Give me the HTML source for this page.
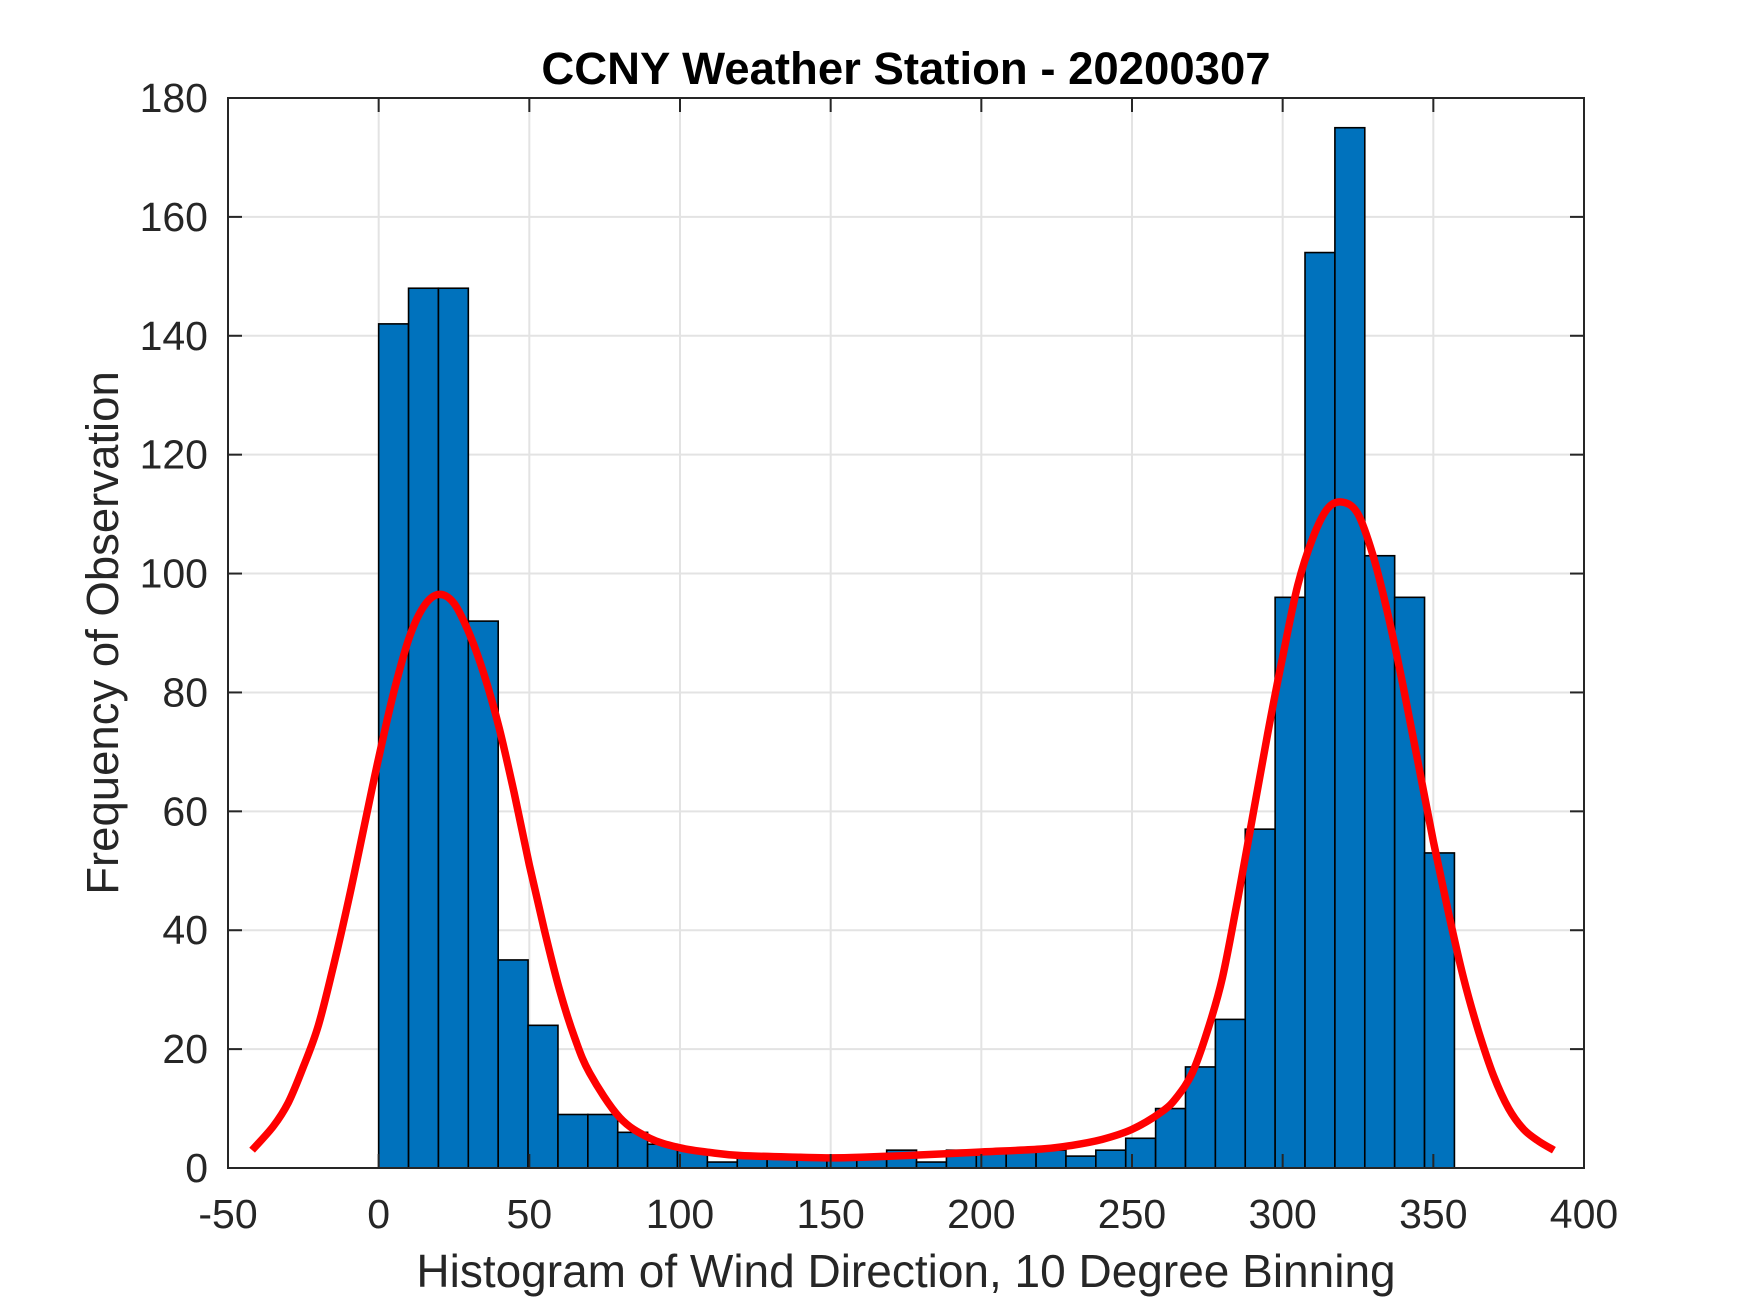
<!DOCTYPE html>
<html><head><meta charset="utf-8"><style>
body{margin:0;background:#fff;}
svg{display:block;font-family:"Liberation Sans",Arial,sans-serif;}
</style></head><body>
<svg id="chart" width="1750" height="1313" viewBox="0 0 1750 1313" xmlns="http://www.w3.org/2000/svg">
<rect width="1750" height="1313" fill="#fff"/>
<g id="grid"></g>
<g id="bars"></g>
<g id="curve"></g>
<g id="axes"></g>
<text x="906" y="84" text-anchor="middle" font-size="45.5" font-weight="bold" fill="#000">CCNY Weather Station - 20200307</text>
<text x="906" y="1287" text-anchor="middle" font-size="46" fill="#262626">Histogram of Wind Direction, 10 Degree Binning</text>
<text transform="translate(118,633) rotate(-90)" text-anchor="middle" font-size="45.5" fill="#262626">Frequency of Observation</text>
</svg>
<script>
const counts = [142,148,148,92,35,24,9,9,6,4,3,1,2,2,2,2,2,3,1,3,3,3,3,2,3,5,10,17,25,57,96,154,175,103,96,53];
const binStart = 0;
const binEnd = 357;
const curveX = [-42,-35,-30,-25,-20,-15,-10,-5,0,5,10,15,20,25,30,35,40,45,50,55,60,65,70,80,90,100,110,120,140,150,160,180,200,220,230,240,250,260,265,270,275,280,285,290,295,300,305,310,315,320,325,330,335,340,345,350,355,360,365,370,375,380,385,390];
const curveY = [3,7,11,17,24,34,45,57,69,80,89,94.5,96.5,95,90,83,74,63,51,40,30,22,16,8.5,5,3.4,2.6,2.1,1.8,1.7,1.8,2.2,2.7,3.2,3.8,4.8,6.5,9.5,12,16,23,32,45,59,73,86,98,106,111,112,110,103,93,81,68,55,43,32,23,15.5,10,6.5,4.5,3];
const xTicks = [-50,0,50,100,150,200,250,300,350,400];
const yTicks = [0,20,40,60,80,100,120,140,160,180];

const L=228,R=1584,T=98,B=1168,xMin=-50,xMax=400,yMin=0,yMax=180;
const sx=v=>L+(v-xMin)/(xMax-xMin)*(R-L);
const sy=v=>B-(v-yMin)/(yMax-yMin)*(B-T);
const NS="http://www.w3.org/2000/svg";
function mk(tag,attrs,parent){const e=document.createElementNS(NS,tag);for(const k in attrs)e.setAttribute(k,attrs[k]);parent.appendChild(e);return e;}
const grid=document.getElementById('grid'),bars=document.getElementById('bars'),curve=document.getElementById('curve'),axes=document.getElementById('axes');

xTicks.forEach(t=>{
  const g=mk('line',{x1:sx(t),x2:sx(t),y1:T,y2:B,stroke:'#e3e3e3','stroke-width':2},grid);
  
  
});
yTicks.forEach(t=>{
  const g=mk('line',{x1:L,x2:R,y1:sy(t),y2:sy(t),stroke:'#e3e3e3','stroke-width':2},grid);
  
  
});

const w=(binEnd-binStart)/counts.length;
counts.forEach((c,i)=>{
  const x0=sx(binStart+i*w),x1=sx(binStart+(i+1)*w);
  const r=mk('rect',{x:x0,y:sy(c),width:x1-x0,height:sy(0)-sy(c),fill:'#0072BD',stroke:'#000','stroke-width':1.6},bars);
  
  
});

// smooth path via Catmull-Rom through the data points
const pts=curveX.map((x,i)=>[sx(x),sy(curveY[i])]);
let d='M'+pts[0][0].toFixed(1)+','+pts[0][1].toFixed(1);
for(let i=0;i<pts.length-1;i++){
  const p0=pts[Math.max(0,i-1)],p1=pts[i],p2=pts[i+1],p3=pts[Math.min(pts.length-1,i+2)];
  const c1x=p1[0]+(p2[0]-p0[0])/6,c1y=p1[1]+(p2[1]-p0[1])/6;
  const c2x=p2[0]-(p3[0]-p1[0])/6,c2y=p2[1]-(p3[1]-p1[1])/6;
  d+=' C'+c1x.toFixed(1)+','+c1y.toFixed(1)+' '+c2x.toFixed(1)+','+c2y.toFixed(1)+' '+p2[0].toFixed(1)+','+p2[1].toFixed(1);
}
const p=mk('path',{d:d,fill:'none',stroke:'#ff0000','stroke-width':7.5,'stroke-linejoin':'round'},curve);



const box=mk('rect',{x:L,y:T,width:R-L,height:B-T,fill:'none',stroke:'#262626','stroke-width':2},axes);


const tl=14;
xTicks.forEach(t=>{
  const x=sx(t);
  mk('line',{x1:x,x2:x,y1:B,y2:B-tl,stroke:'#262626','stroke-width':2},axes);
  mk('line',{x1:x,x2:x,y1:T,y2:T+tl,stroke:'#262626','stroke-width':2},axes);
  const lab=mk('text',{x:x,y:1228,'text-anchor':'middle','font-size':41,fill:'#262626'},axes);
  lab.textContent=t;
  
  
});
yTicks.forEach(t=>{
  const y=sy(t);
  mk('line',{x1:L,x2:L+tl,y1:y,y2:y,stroke:'#262626','stroke-width':2},axes);
  mk('line',{x1:R,x2:R-tl,y1:y,y2:y,stroke:'#262626','stroke-width':2},axes);
  const lab=mk('text',{x:208,y:y+14,'text-anchor':'end','font-size':41,fill:'#262626'},axes);
  lab.textContent=t;
  
  
});
</script>
</body></html>
